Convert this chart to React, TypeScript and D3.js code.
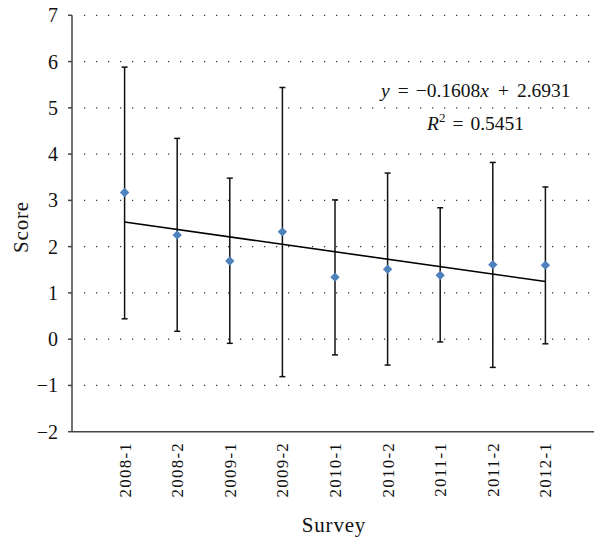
import React from 'react';
import * as d3 from 'd3';

const surveys = ['2008-1', '2008-2', '2009-1', '2009-2', '2010-1', '2010-2', '2011-1', '2011-2', '2012-1'];
const means = [3.17, 2.25, 1.69, 2.32, 1.34, 1.51, 1.38, 1.61, 1.6];
const upper = [5.88, 4.34, 3.48, 5.44, 3.01, 3.59, 2.84, 3.82, 3.29];
const lower = [0.44, 0.17, -0.09, -0.81, -0.34, -0.56, -0.06, -0.61, -0.1];
const yTicks = [-2, -1, 0, 1, 2, 3, 4, 5, 6, 7];
const slope = -0.1608;
const intercept = 2.6931;

const font = '"Liberation Serif", "Times New Roman", serif';

const App = () => {
	const w = 594;
	const h = 539;
	const m = { l: 72, t: 15.3, b: 431.7 };

	const x = d3.scaleLinear().domain([0, surveys.length + 1]).range([m.l, 598]);
	const y = d3.scaleLinear().domain([-2, 7]).range([m.b, m.t]);

	const diamond = d3.symbol().type(d3.symbolSquare).size(44)();
	const trend = d3.line<number>()
		.x((d) => x(d))
		.y((d) => y(slope * d + intercept));

	return (
		<svg width={w} height={h} style={{ position: 'absolute', left: 0, top: 0 }}>
			{yTicks.filter((t) => t > -2).map((t) => (
				<line key={'g' + t} x1={84} x2={594} y1={y(t)} y2={y(t)} stroke="#333" strokeWidth={1.2} strokeDasharray="1.2 10.8" />
			))}
			{surveys.map((s, i) => (
				<g key={s}>
					<line x1={x(i + 1)} x2={x(i + 1)} y1={y(upper[i])} y2={y(lower[i])} stroke="#111" strokeWidth={1.5} />
					<line x1={x(i + 1) - 3} x2={x(i + 1) + 3} y1={y(upper[i])} y2={y(upper[i])} stroke="#111" strokeWidth={1.5} />
					<line x1={x(i + 1) - 3} x2={x(i + 1) + 3} y1={y(lower[i])} y2={y(lower[i])} stroke="#111" strokeWidth={1.5} />
				</g>
			))}
			<path d={trend([1, surveys.length]) || ''} stroke="#000" strokeWidth={1.6} fill="none" />
			{surveys.map((s, i) => (
				<path key={'m' + s} d={diamond} transform={`translate(${x(i + 1)},${y(means[i])}) rotate(45)`} fill="#4f81bd" />
			))}
			<line x1={m.l} x2={m.l} y1={m.t} y2={m.b} stroke="#444" strokeWidth={1.5} />
			<line x1={m.l} x2={594} y1={m.b} y2={m.b} stroke="#444" strokeWidth={1.5} />
			{yTicks.map((t) => (
				<g key={'t' + t}>
					<line x1={m.l - 4} x2={m.l} y1={y(t)} y2={y(t)} stroke="#444" strokeWidth={1.5} />
					<text x={m.l - 14} y={y(t)} dy="0.35em" textAnchor="end" fontFamily={font} fontSize={20} fill="#111">
						{t < 0 ? '\u2212' + Math.abs(t) : t}
					</text>
				</g>
			))}
			{surveys.map((s, i) => (
				<text key={'x' + s} transform={`translate(${x(i + 1)},${442}) rotate(-90)`} dy="0.35em" textAnchor="end" fontFamily={font} fontSize={17} letterSpacing={1.2} fill="#111">
					{s}
				</text>
			))}
			<text transform={`translate(${28},${227}) rotate(-90)`} textAnchor="middle" fontFamily={font} fontSize={21} letterSpacing={0.8} fill="#111">
				Score
			</text>
			<text x={334} y={532} textAnchor="middle" fontFamily={font} fontSize={21} letterSpacing={0.8} fill="#111">
				Survey
			</text>
			<text x={381} y={97} fontFamily={font} fontSize={19.5} fill="#111">
				<tspan fontStyle="italic">y</tspan>
				<tspan dx={8}>=</tspan>
				<tspan dx={7}>{'\u2212'}0.1608</tspan>
				<tspan fontStyle="italic">x</tspan>
				<tspan dx={9}>+</tspan>
				<tspan dx={8}>2.6931</tspan>
			</text>
			<text x={427} y={130} fontFamily={font} fontSize={19.5} fill="#111">
				<tspan fontStyle="italic">R</tspan>
				<tspan dy={-8} fontSize={13}>2</tspan>
				<tspan dy={8} dx={7}>=</tspan>
				<tspan dx={7}>0.5451</tspan>
			</text>
		</svg>
	);
};

export default App;
